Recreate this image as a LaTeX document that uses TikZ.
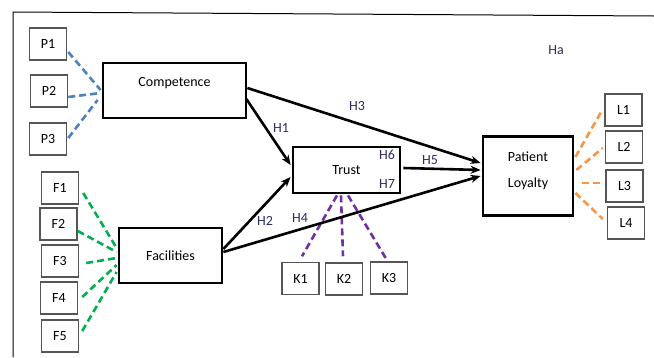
\documentclass[tikz,border=0pt]{standalone}
\usepackage{fontspec}
\setmainfont{Carlito}
\usetikzlibrary{arrows.meta}
\definecolor{pblue}{RGB}{79,129,189}
\definecolor{pgreen}{RGB}{0,176,80}
\definecolor{ppurple}{RGB}{112,48,160}
\definecolor{porange}{RGB}{247,150,70}
\definecolor{hlab}{RGB}{45,45,100}
\definecolor{boxgray}{RGB}{85,85,85}
\tikzset{
  ind/.style={draw=boxgray, line width=1.5pt, fill=white, minimum width=37pt, minimum height=32pt, inner sep=0pt, font=\fontsize{14}{16}\selectfont},
  mainbox/.style={draw=black, line width=2.8pt, fill=white, inner sep=0pt, font=\fontsize{14}{16}\selectfont},
  txt/.style={inner sep=0pt, font=\fontsize{14}{16}\selectfont},
  hl/.style={inner sep=0pt, text=hlab, font=\fontsize{14}{16}\selectfont},
  dsh/.style={line width=2.6pt, dash pattern=on 7pt off 4pt},
  arr/.style={line width=2.6pt, -{Stealth[length=10pt,width=8pt]}},
}
\begin{document}
\begin{tikzpicture}[x=1pt,y=-1pt]
\useasboundingbox (0,0) rectangle (654,357);
\fill[white] (0,0) rectangle (654,357);
% frame
\draw[line width=1pt] (13,357) -- (13,12) -- (654,16);

% main boxes
\node[mainbox, minimum width=143pt, minimum height=55pt] (comp) at (174.5,90.5) {};
\node[txt] (comptxt) at (174.5,83) {Competence};
\node[mainbox, minimum width=107pt, minimum height=46pt] (trust) at (346.5,170) {Trust};
\node[mainbox, minimum width=90pt, minimum height=79pt] (loy) at (528,176) {};
\node[txt, align=center] (loytxt) at (528,170.5) {Patient\\[10pt]Loyalty};
\node[mainbox, minimum width=103pt, minimum height=55pt] (fac) at (170.5,255.5) {Facilities};

% indicator boxes
\node[ind] (p1) at (48,44) {P1};
\node[ind] (p2) at (49,91) {P2};
\node[ind] (p3) at (48,139) {P3};
\node[ind] (f1) at (60,188) {F1};
\node[ind] (f2) at (58.5,224) {F2};
\node[ind] (f3) at (60,261) {F3};
\node[ind] (f4) at (59,298) {F4};
\node[ind] (f5) at (60,336) {F5};
\node[ind] (k1) at (300.5,278.5) {K1};
\node[ind] (k2) at (344,279) {K2};
\node[ind] (k3) at (389,278) {K3};
\node[ind] (l1) at (623.5,110) {L1};
\node[ind] (l2) at (624,147) {L2};
\node[ind] (l3) at (624.5,186) {L3};
\node[ind] (l4) at (626,223) {L4};

% blue dashed
\draw[dsh, pblue] ([shift={(1,8)}]p1.east) -- ([shift={(-1,-0.5)}]comp.west);
\draw[dsh, pblue] ([shift={(0,6)}]p2.east) -- ([shift={(-1,2.5)}]comp.west);
\draw[dsh, pblue] ([shift={(1,-1)}]p3.east) -- ([shift={(-4,9.5)}]comp.west);
% green dashed
\draw[dsh, pgreen] ([shift={(4,5)}]f1.east) -- ([shift={(-1,-7.5)}]fac.west);
\draw[dsh, pgreen] ([shift={(0,7)}]f2.east) -- ([shift={(-1,-3.5)}]fac.west);
\draw[dsh, pgreen] ([shift={(7,2)}]f3.east) -- ([shift={(-1,2.5)}]fac.west);
\draw[dsh, pgreen] ([shift={(4,-1)}]f4.east) -- ([shift={(-1,9.5)}]fac.west);
\draw[dsh, pgreen] ([shift={(3,-5)}]f5.east) -- ([shift={(-1,16.5)}]fac.west);
% purple dashed
\draw[dsh, ppurple] ([shift={(-9.5,1)}]trust.south) -- ([shift={(1.5,-5.5)}]k1.north);
\draw[dsh, ppurple] ([shift={(-5.5,1)}]trust.south) -- ([shift={(-1,-6)}]k2.north);
\draw[dsh, ppurple] ([shift={(1.5,1)}]trust.south) -- ([shift={(-2,-1)}]k3.north);
% orange dashed
\draw[dsh, porange] ([shift={(1,-19)}]loy.east) -- ([shift={(-2,0)}]l1.west);
\draw[dsh, porange] ([shift={(2,-6)}]loy.east) -- ([shift={(-2,1)}]l2.west);
\draw[dsh, porange] ([shift={(8,7)}]loy.east) -- ([shift={(-3,-3)}]l3.west);
\draw[dsh, porange] ([shift={(1,17)}]loy.east) -- ([shift={(-4,-4)}]l4.west);

% structural arrows
\draw[arr] ([shift={(-1,8.5)}]comp.east) -- ([shift={(-1,-5)}]trust.west);
\draw[arr] ([shift={(0,-2.5)}]comp.east) -- ([shift={(-1,-13)}]loy.west);
\draw[arr] ([shift={(0,-6.5)}]fac.east) -- ([shift={(-1,7)}]trust.west);
\draw[arr] ([shift={(0,-3.5)}]fac.east) -- ([shift={(-1,0)}]loy.west);
\draw[arr] ([shift={(2,-2)}]trust.east) -- ([shift={(-1,-6)}]loy.west);

% hypothesis labels
\node[hl] (h1) at (281,128) {H1};
\node[hl] (h2) at (265,221) {H2};
\node[hl] (h3) at (357,106) {H3};
\node[hl] (h4) at (300,218) {H4};
\node[hl] (h5) at (430,160) {H5};
\node[hl] (h6) at (387,155) {H6};
\node[hl] (h7) at (387,184) {H7};
\node[hl] (ha) at (556,50) {Ha};
\end{tikzpicture}
\end{document}
